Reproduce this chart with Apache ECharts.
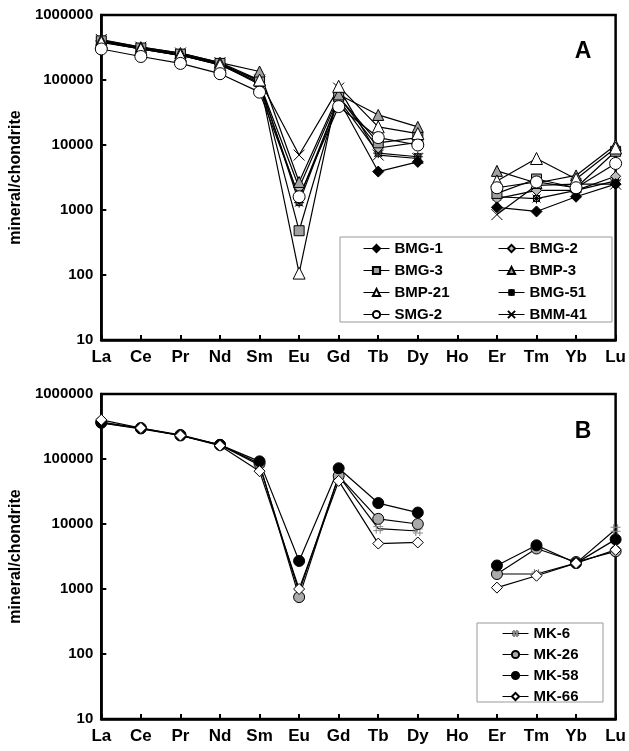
<!DOCTYPE html>
<html>
<head>
<meta charset="utf-8">
<script src="https://cdn.jsdelivr.net/npm/echarts@6/dist/echarts.min.js"></script>
<style>
  html, body { margin: 0; padding: 0; background: #fff; }
  #chart { width: 629px; height: 751px; }
</style>
</head>
<body>
<div id="chart"></div>
<script>
const elements = ["La", "Ce", "Pr", "Nd", "Sm", "Eu", "Gd", "Tb", "Dy", "Ho", "Er", "Tm", "Yb", "Lu"];

// panel A
const bmg1 = [400000, 310000, 250000, 175000, 85000, 1500, 50000, 3900, 5500, "-", 1100, 950, 1600, 2500];
const bmg2 = [390000, 300000, 240000, 170000, 90000, 2200, 55000, 9000, 11000, "-", 1500, 2000, 2000, 3300];
const bmg3 = [400000, 310000, 250000, 180000, 95000, 480, 55000, 10800, 13000, "-", 1800, 3000, 2200, 8000];
const bmp3 = [410000, 320000, 260000, 185000, 135000, 2700, 60000, 29000, 19000, "-", 4000, 2600, 3400, 10000];
const bmp21 = [380000, 300000, 240000, 170000, 100000, 107, 80000, 19000, 15000, "-", 2800, 6200, 3000, 9000];
const bmg51 = [390000, 300000, 240000, 175000, 90000, 1300, 50000, 7500, 6600, "-", 1600, 1500, 2000, 2800];
const smg2 = [300000, 230000, 180000, 125000, 65000, 1600, 39000, 13000, 10000, "-", 2200, 2700, 2200, 5200];
const bmm41 = [420000, 320000, 260000, 185000, 100000, 7000, 75000, 7000, 6200, "-", 850, 2400, 2500, 2500];

// panel B
const mk6 = [360000, 290000, 230000, 165000, 80000, 900, 55000, 8500, 7800, "-", 1700, 1700, 2500, 8300];
const mk26 = [370000, 300000, 235000, 165000, 85000, 750, 55000, 12000, 10000, "-", 1700, 4200, 2600, 3800];
const mk58 = [360000, 295000, 230000, 165000, 92000, 2700, 72000, 21000, 15000, "-", 2300, 4700, 2500, 5800];
const mk66 = [400000, 300000, 230000, 160000, 65000, 1000, 46000, 5000, 5200, "-", 1050, 1600, 2500, 4000];

const font = "Liberation Sans, Arial, sans-serif";
const crossPath = "path://M0,0L10,10M10,0L0,10";
const starPath = "path://M1,1L9,9M9,1L1,9M0,5L10,5M5,0L5,10M2,2L8,2L8,8L2,8Z";
const hashPath = "path://M0,3L10,3M0,7L10,7M3,0L3,10M7,0L7,10";

const chart = echarts.init(document.getElementById("chart"));

function mkSeries(name, data, idx, symbol, fill, size, border) {
    return {
        name: name,
        type: "line",
        xAxisIndex: idx,
        yAxisIndex: idx,
        data: data,
        connectNulls: false,
        symbol: symbol,
        symbolSize: size,
        symbolKeepAspect: true,
        lineStyle: { color: "#000", width: 1.2 },
        itemStyle: { color: fill, borderColor: border || "#000", borderWidth: 1 },
        emphasis: { disabled: true },
        animation: false
    };
}

function xAx(idx) {
    return {
        type: "category",
        gridIndex: idx,
        data: elements,
        boundaryGap: false,
        axisLine: { lineStyle: { color: "#000", width: 2.5 } },
        axisTick: { inside: true, length: 5, lineStyle: { color: "#000", width: 2 } },
        axisLabel: { color: "#000", fontFamily: font, fontWeight: "bold", fontSize: 17, margin: 9 },
        splitLine: { show: false }
    };
}

function yAx(idx) {
    return {
        type: "log",
        logBase: 10,
        gridIndex: idx,
        min: 10,
        max: 1000000,
        name: "mineral/chondrite",
        nameLocation: "middle",
        nameGap: 76,
        nameTextStyle: { color: "#000", fontFamily: font, fontWeight: "bold", fontSize: 16 },
        axisLine: { show: true, lineStyle: { color: "#000", width: 2.5 } },
        axisTick: { show: true, inside: true, length: 5, lineStyle: { color: "#000", width: 2 } },
        axisLabel: {
            color: "#000", fontFamily: font, fontWeight: "bold", fontSize: 15, margin: 8,
            formatter: v => String(Math.round(v))
        },
        splitLine: { show: false }
    };
}

function legendCol(names, left, top, gap) {
    return {
        data: names,
        orient: "vertical",
        left: left,
        top: top,
        itemGap: gap,
        itemWidth: 26,
        itemHeight: 9,
        padding: 0,
        lineStyle: { width: 1 },
        textStyle: { color: "#000", fontFamily: font, fontWeight: "bold", fontSize: 15, lineHeight: 14 },
        selectedMode: false
    };
}

const option = {
    backgroundColor: "#fff",
    animation: false,
    grid: [
        { left: 101, top: 15, width: 522, height: 325, show: true, borderColor: "#000", borderWidth: 2.5 },
        { left: 101, top: 394, width: 522, height: 325, show: true, borderColor: "#000", borderWidth: 2.5 }
    ],
    xAxis: [xAx(0), xAx(1)],
    yAxis: [yAx(0), yAx(1)],
    legend: [
        legendCol(["BMG-1", "BMG-3", "BMP-21", "SMG-2"], 363, 241, 7),
        legendCol(["BMG-2", "BMP-3", "BMG-51", "BMM-41"], 498, 241, 7),
        legendCol(["MK-6", "MK-26", "MK-58", "MK-66"], 502, 626, 6)
    ],
    graphic: [
        { type: "rect", shape: { x: 340, y: 237, width: 272, height: 85 }, style: { fill: "#fff", stroke: "#999", lineWidth: 1 }, z: -1 },
        { type: "rect", shape: { x: 477, y: 623, width: 126, height: 79 }, style: { fill: "#fff", stroke: "#999", lineWidth: 1 }, z: -1 },
        { type: "text", x: 583, y: 52, style: { text: "A", font: "bold 23px " + font, fill: "#000", align: "center", verticalAlign: "middle" } },
        { type: "text", x: 583, y: 432, style: { text: "B", font: "bold 23px " + font, fill: "#000", align: "center", verticalAlign: "middle" } }
    ],
    series: [
        mkSeries("BMM-41", bmm41, 0, crossPath, "none", 11, "#000"),
        mkSeries("BMG-51", bmg51, 0, starPath, "#888", 10, "#000"),
        mkSeries("BMG-2", bmg2, 0, "diamond", "#bbb", 10),
        mkSeries("BMG-1", bmg1, 0, "diamond", "#000", 11),
        mkSeries("BMG-3", bmg3, 0, "rect", "#a0a0a0", 10),
        mkSeries("BMP-3", bmp3, 0, "triangle", "#a0a0a0", 11),
        mkSeries("BMP-21", bmp21, 0, "triangle", "#fff", 12),
        mkSeries("SMG-2", smg2, 0, "circle", "#fff", 12),
        mkSeries("MK-6", mk6, 1, hashPath, "#999", 10, "#888"),
        mkSeries("MK-26", mk26, 1, "circle", "#aaa", 11),
        mkSeries("MK-58", mk58, 1, "circle", "#000", 11),
        mkSeries("MK-66", mk66, 1, "diamond", "#fff", 11)
    ]
};

chart.setOption(option);
</script>
</body>
</html>
